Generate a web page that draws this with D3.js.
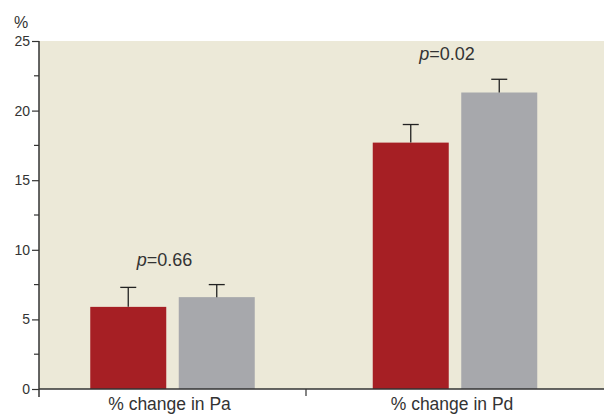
<!DOCTYPE html>
<html>
<head>
<meta charset="utf-8">
<script src="https://cdn.jsdelivr.net/npm/d3@7"></script>
<style>
body { margin: 0; background: #fff; }
svg text { fill: #333; }
</style>
</head>
<body>
<svg id="chart"></svg>
<script>
// data
var categories = ["% change in Pa", "% change in Pd"];
var redValues = [5.9, 17.7];
var redErrors = [1.4, 1.3];
var greyValues = [6.6, 21.3];
var greyErrors = [0.9, 0.95];
var pLabels = ["p=0.66", "p=0.02"];
var yTicks = [0, 5, 10, 15, 20, 25];
var yMinorTicks = [2.5, 7.5, 12.5, 17.5, 22.5];

var width = 604, height = 414;
var plotLeft = 39, plotTop = 41, plotBottom = 389, plotRight = 604;

var svg = d3.select("#chart").attr("width", width).attr("height", height);

var yScale = d3.scaleLinear().domain([0, 25]).range([plotBottom, plotTop]);
// group centres (groups are not evenly spaced in the original)
var xScale = d3.scalePoint().domain(categories).range([172.5, 455]);
var barW = 76, gap = 12.5;

// background
svg.append("rect")
  .attr("x", plotLeft).attr("y", plotTop)
  .attr("width", plotRight - plotLeft).attr("height", plotBottom - plotTop)
  .attr("fill", "#ECE9D8");

function drawBar(vals, errs, dx, colour) {
  svg.append("g").selectAll("rect")
    .data(categories)
    .enter().append("rect")
    .attr("x", function(d) { return xScale(d) + dx; })
    .attr("y", function(d, i) { return yScale(vals[i]); })
    .attr("width", barW)
    .attr("height", function(d, i) { return yScale(0) - yScale(vals[i]); })
    .attr("fill", colour);
  // error bars
  var eb = svg.append("g").selectAll("g")
    .data(categories)
    .enter().append("g");
  eb.append("line")
    .attr("x1", function(d) { return xScale(d) + dx + barW / 2; })
    .attr("x2", function(d) { return xScale(d) + dx + barW / 2; })
    .attr("y1", function(d, i) { return yScale(vals[i]); })
    .attr("y2", function(d, i) { return yScale(vals[i] + errs[i]); })
    .attr("stroke", "#222").attr("stroke-width", 1.3);
  eb.append("line")
    .attr("x1", function(d) { return xScale(d) + dx + barW / 2 - 8; })
    .attr("x2", function(d) { return xScale(d) + dx + barW / 2 + 8; })
    .attr("y1", function(d, i) { return yScale(vals[i] + errs[i]); })
    .attr("y2", function(d, i) { return yScale(vals[i] + errs[i]); })
    .attr("stroke", "#222").attr("stroke-width", 1.3);
}
drawBar(redValues, redErrors, -gap / 2 - barW, "#A61F24");
drawBar(greyValues, greyErrors, gap / 2, "#A7A8AC");

// p values
var pText = svg.append("g").selectAll("text")
  .data(categories)
  .enter().append("text")
  .attr("x", function(d) { return xScale(d) - 8; })
  .attr("y", function(d, i) {
    return yScale(Math.max(redValues[i] + redErrors[i], greyValues[i] + greyErrors[i])) - 19;
  })
  .attr("text-anchor", "middle")
  .attr("font-family", "Liberation Sans, Arial, sans-serif")
  .attr("font-size", "18px");
pText.append("tspan").attr("font-style", "italic")
  .text(function(d, i) { return pLabels[i].split("=")[0]; });
pText.append("tspan")
  .text(function(d, i) { return "=" + pLabels[i].split("=")[1]; });

// y axis
var yAxis = svg.append("g")
  .attr("transform", "translate(" + plotLeft + ",0)")
  .call(d3.axisLeft(yScale).tickValues(yTicks).tickSize(7).tickPadding(2));
yAxis.select(".domain").attr("stroke", "#333").attr("stroke-width", 1.5)
  .attr("d", "M0," + (plotBottom + 8) + "V" + plotTop);
yAxis.selectAll(".tick line").attr("stroke", "#333").attr("stroke-width", 1.2);
yAxis.selectAll(".tick text")
  .attr("font-family", "Liberation Sans Narrow, Arial Narrow, sans-serif")
  .attr("font-size", "14px").attr("fill", "#333");
svg.append("g").selectAll("line")
  .data(yMinorTicks)
  .enter().append("line")
  .attr("x1", plotLeft - 5).attr("x2", plotLeft)
  .attr("y1", function(d) { return yScale(d); })
  .attr("y2", function(d) { return yScale(d); })
  .attr("stroke", "#333").attr("stroke-width", 1.2);

// x axis
svg.append("line")
  .attr("x1", plotLeft).attr("x2", plotRight)
  .attr("y1", plotBottom).attr("y2", plotBottom)
  .attr("stroke", "#333").attr("stroke-width", 1.5);
svg.append("line")
  .attr("x1", 306).attr("x2", 306)
  .attr("y1", plotBottom).attr("y2", plotBottom + 7)
  .attr("stroke", "#333").attr("stroke-width", 1.2);
svg.append("g").selectAll("text")
  .data(categories)
  .enter().append("text")
  .attr("x", function(d) { return xScale(d) - 3; })
  .attr("y", plotBottom + 21)
  .attr("text-anchor", "middle")
  .attr("font-family", "Liberation Sans, Arial, sans-serif")
  .attr("font-size", "17.5px")
  .text(function(d) { return d; });

// unit label
svg.append("text")
  .attr("x", 14).attr("y", 28)
  .attr("font-family", "Liberation Sans, Arial, sans-serif")
  .attr("font-size", "16px")
  .text("%");
</script>
</body>
</html>
